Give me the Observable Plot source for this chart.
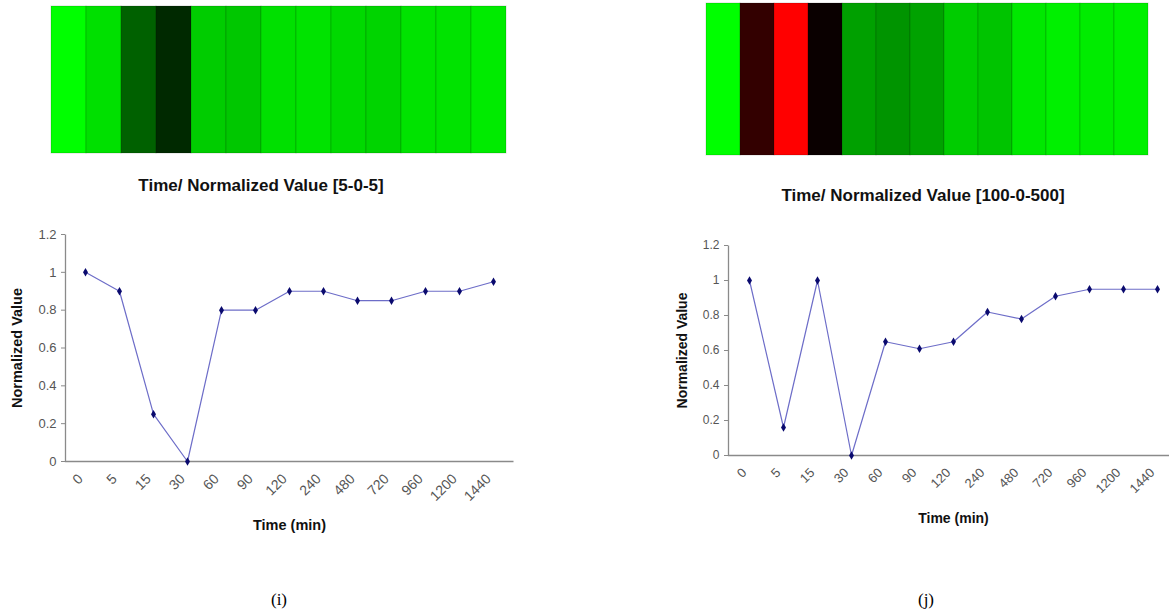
<!DOCTYPE html>
<html><head><meta charset="utf-8">
<script src="https://cdn.jsdelivr.net/npm/d3@7"></script>
<script src="https://cdn.jsdelivr.net/npm/@observablehq/plot@0.6"></script>
<style>
html,body{margin:0;padding:0;background:#fff;overflow:hidden;}
#root{position:relative;width:1169px;height:613px;overflow:hidden;font-family:"Liberation Sans",Arial,sans-serif;}
.abs{position:absolute;}
.abs svg{display:block;overflow:visible;max-width:none !important;}
.title{font-weight:bold;font-size:17px;line-height:20px;color:#111;white-space:nowrap;transform:translateX(-50%);}
.cap{font-family:"Liberation Serif","Times New Roman",serif;font-size:17px;line-height:20px;color:#000;transform:translateX(-50%);}
</style></head><body><div id="root"></div>
<script>
// ---- data ----
const times = ["0","5","15","30","60","90","120","240","480","720","960","1200","1440"];
const normI = [1.0,0.9,0.25,0,0.8,0.8,0.9,0.9,0.85,0.85,0.9,0.9,0.95];
const normJ = [1.0,0.16,1.0,0,0.65,0.61,0.65,0.82,0.78,0.91,0.95,0.95,0.95];
const heatI = [5.0,4.4,1.9,0.8,4.0,3.9,4.4,4.45,4.25,4.15,4.45,4.45,4.6];
const heatJ = [500,-20,-100,-4,314,290,318,400,384,455,470,463,470];
const heatDomainI = [-5,0,5];
const heatDomainJ = [-100,0,500];
const yTicks = [0,0.2,0.4,0.6,0.8,1,1.2];
const titleI = "Time/ Normalized Value [5-0-5]";
const titleJ = "Time/ Normalized Value [100-0-500]";
const xLabel = "Time (min)";
const yLabel = "Normalized Value";
const captionI = "(i)";
const captionJ = "(j)";

const root = document.getElementById("root");
function place(node, left, top, cls, width) {
  const d = document.createElement("div");
  d.className = "abs" + (cls ? " " + cls : "");
  d.style.left = left + "px";
  d.style.top = top + "px";
  if (width) d.style.width = width + "px";
  if (typeof node === "string") d.textContent = node; else d.appendChild(node);
  root.appendChild(d);
}

function heat(values, domain, width, height) {
  const data = times.map((t, i) => ({t, h: values[i]}));
  return Plot.plot({
    width, height, margin: 0,
    style: {background: "transparent"},
    x: {type: "band", domain: times, axis: null, padding: 0},
    color: {type: "linear", domain, range: ["#ff0000", "#000000", "#00ff00"], interpolate: "rgb"},
    marks: [
      Plot.cell(data, {x: "t", fill: "h", stroke: "rgba(0,0,0,0.16)", strokeWidth: 1, inset: 0})
    ]
  });
}

function linePlot(values, o) {
  const data = times.map((t, i) => ({t, v: values[i]}));
  const w = o.width - o.ml - o.mr, h = o.height - o.mt - o.mb;
  return Plot.plot({
    width: o.width, height: o.height,
    marginLeft: o.ml, marginRight: o.mr, marginTop: o.mt, marginBottom: o.mb,
    style: {fontFamily: "Liberation Sans, Arial, sans-serif", fontSize: o.fs + "px", color: "#555", background: "transparent", maxWidth: "none"},
    x: {type: "band", domain: times, padding: 0},
    y: {domain: [0, 1.2]},
    marks: [
      Plot.frame({stroke: "#8a8a8a", strokeWidth: 1.3, strokeDasharray: `0 ${w + h} ${w + h} 0`}),
      Plot.axisY(yTicks, {tickSize: 4, tickPadding: 5, tickFormat: d => String(d), stroke: "#8a8a8a", fill: "#555", label: null}),
      Plot.axisX({tickSize: 0, tickRotate: -45, tickPadding: o.tp, dx: -5, fill: "#555", fontSize: o.xfs, label: null}),
      Plot.line(data, {x: "t", y: "v", stroke: "#6d6dc8", strokeWidth: 1.2}),
      Plot.dot(data, {x: "t", y: "v", symbol: "diamond", r: 2.6, fill: "#0a0a6e", stroke: "none"}),
      Plot.text([xLabel], {text: d => d, frameAnchor: "bottom", dy: o.xdy, fontWeight: "bold", fontSize: o.lfs, fill: "#111"}),
      Plot.text([yLabel], {text: d => d, frameAnchor: "left", textAnchor: "middle", dx: o.ydx, rotate: -90, fontWeight: "bold", fontSize: o.lfs, fill: "#111"})
    ]
  });
}

place(heat(heatI, heatDomainI, 461, 147), 48, 6, null, 461);
place(heat(heatJ, heatDomainJ, 448, 152), 703, 3, null, 448);
place(titleI, 261, 176, "title");
place(titleJ, 923, 186, "title");
place(linePlot(normI, {width: 530, height: 320, ml: 65, mr: 17, mt: 14, mb: 79, fs: 13, xfs: 14, lfs: 14.5, tp: 15, xdy: 68, ydx: -48}), 0, 220, null, 530);
place(linePlot(normJ, {width: 520, height: 320, ml: 68, mr: 2, mt: 25, mb: 85, fs: 12, xfs: 13, lfs: 14, tp: 15, xdy: 67, ydx: -46}), 660, 220, null, 520);
place(captionI, 279, 590, "cap");
place(captionJ, 926, 590, "cap");
</script></body></html>
